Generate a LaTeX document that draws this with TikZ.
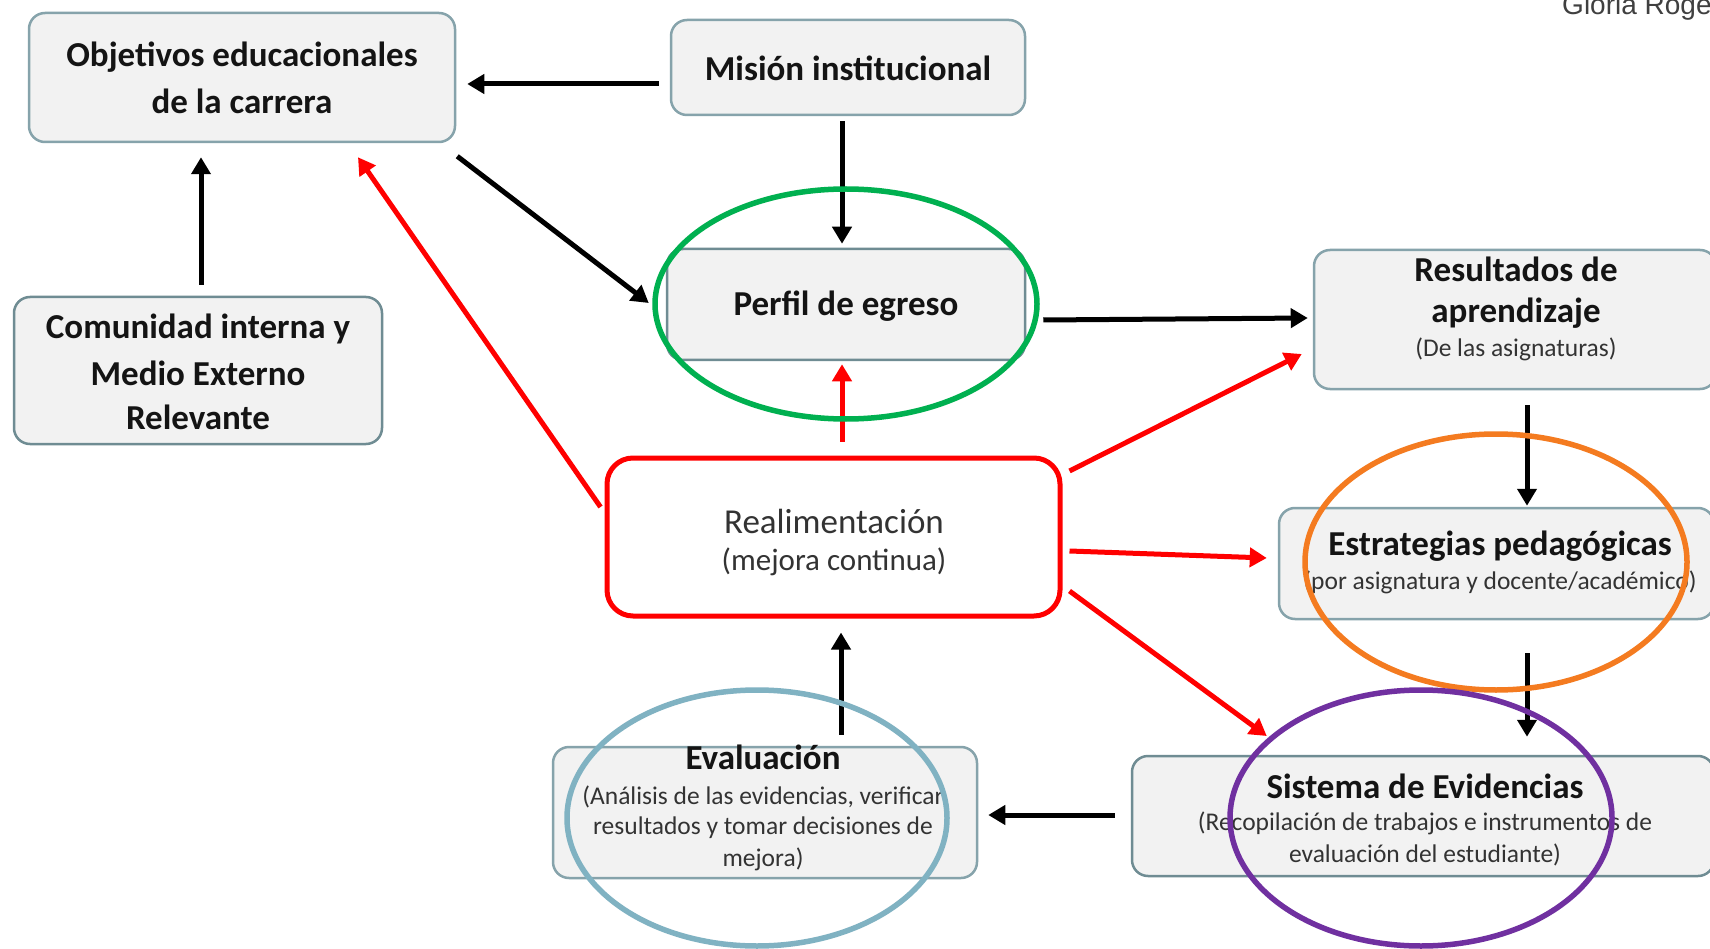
\documentclass[tikz,border=0pt]{standalone}
\usepackage{fontspec}
\setmainfont{Carlito}
\newfontfamily\arialfont{Liberation Sans}
\usetikzlibrary{arrows.meta,calc}
\definecolor{boxfill}{HTML}{F2F2F2}
\definecolor{boxline}{HTML}{86A3AB}
\definecolor{boxdark}{HTML}{6F8C93}
\definecolor{txt}{HTML}{141414}
\definecolor{subtxt}{HTML}{333333}
\definecolor{redc}{HTML}{FF0000}
\definecolor{greenc}{HTML}{00B050}
\definecolor{orangec}{HTML}{F47B20}
\definecolor{purplec}{HTML}{7030A0}
\definecolor{bluec}{HTML}{80B2C2}
\definecolor{authorc}{HTML}{404040}
\tikzset{
  box/.style={draw=boxline, fill=boxfill, line width=2.5pt, rounded corners=16pt, inner sep=0pt},
  redbox/.style={draw=redc, fill=white, line width=5pt, rounded corners=26pt, inner sep=0pt},
  headtxt/.style={font=\fontsize{35}{44}\selectfont\bfseries, text=txt, align=center, inner sep=0pt},
  subt/.style={font=\fontsize{25.5}{31}\selectfont, text=subtxt, align=center, inner sep=0pt},
  realtxt/.style={font=\fontsize{35}{41}\selectfont, text=subtxt, align=center, inner sep=0pt},
  blk/.style={draw=black, line width=5pt, -{Triangle[length=17pt,width=19pt]}},
  red/.style={draw=redc, line width=5pt, -{Triangle[length=17pt,width=19pt]}},
  ring/.style={line width=5.5pt}
}
\begin{document}
\begin{tikzpicture}[x=1pt,y=-1pt]
\useasboundingbox (0,0) rectangle (1710,949);
\fill[white] (0,0) rectangle (1710,949);

% author
\node[anchor=base west, font=\fontsize{28}{30}\selectfont\arialfont, text=authorc, inner sep=0pt] (autor) at (1562,15) {Gloria Rogers};

% boxes
\node[box, minimum width=426pt, minimum height=129pt] (obj) at (242,77.5) {};
\node[box, minimum width=354pt, minimum height=95pt] (mision) at (848,67.5) {};
\node[box, draw=boxdark, minimum width=358pt, minimum height=111pt] (perfil) at (846,304.5) {};
\node[box, draw=boxdark, minimum width=368pt, minimum height=147pt] (comunidad) at (198,370.5) {};
\node[box, minimum width=402pt, minimum height=139pt] (resultados) at (1515,319.5) {};
\node[box, minimum width=435pt, minimum height=111pt] (estrategias) at (1496.5,563.5) {};
\node[box, draw=boxdark, minimum width=582pt, minimum height=120pt] (sistema) at (1423,816) {};
\node[box, minimum width=424pt, minimum height=131pt] (evaluacion) at (765,812.5) {};
\node[redbox, minimum width=453pt, minimum height=158pt] (realim) at (833.5,537) {};

% texts
\node[headtxt] (tobj1) at (242,57) {Objetivos educacionales};
\node[headtxt] (tobj2) at (242,101) {de la carrera};
\node[headtxt] (tmision) at (848,68) {Misión institucional};
\node[headtxt] (tperfil) at (846,306) {Perfil de egreso};
\node[headtxt] (tcom1) at (198,329) {Comunidad interna y};
\node[headtxt] (tcom2) at (198,373) {Medio Externo};
\node[headtxt] (tcom3) at (198,417) {Relevante};
\node[headtxt] (tres1) at (1516,269) {Resultados de};
\node[headtxt] (tres2) at (1516,313) {aprendizaje};
\node[subt] (tres3) at (1516,349) {(De las asignaturas)};
\node[headtxt] (test1) at (1500,546) {Estrategias pedagógicas};
\node[subt] (test2) at (1500,582) {(por asignatura y docente/académico)};
\node[headtxt] (tsis1) at (1425,786) {Sistema de Evidencias};
\node[subt] (tsis2) at (1425,823) {(Recopilación de trabajos e instrumentos de};
\node[subt] (tsis3) at (1425,855) {evaluación del estudiante)};
\node[headtxt] (teva1) at (763,757) {Evaluación};
\node[subt] (teva2) at (763,797) {(Análisis de las evidencias, verificar};
\node[subt] (teva3) at (763,828) {resultados y tomar decisiones de};
\node[subt] (teva4) at (763,859) {mejora)};
\node[realtxt] (treal1) at (834,521) {Realimentación};
\node[realtxt, font=\fontsize{31}{38}\selectfont] (treal2) at (834,562) {(mejora continua)};

% black arrows
\draw[blk] ($(mision.west)+(-11,16.5)$) -- ($(obj.east)+(11,6.5)$);
\draw[blk] ($(mision.south)+(-6,5)$) -- ($(perfil.north)+(-4,-4)$);
\draw[blk] ($(obj.south east)+(1,13)$) -- ($(perfil.west)+(-17,-1.5)$);
\draw[blk] ($(comunidad.north)+(3,-11)$) -- ($(obj.south)+(-41,14)$);
\draw[blk] ($(perfil.east)+(17,15.5)$) -- ($(resultados.west)+(-5,-1.5)$);
\draw[blk] ($(resultados.south)+(12,15)$) -- ($(estrategias.north)+(30.5,-1)$);
\draw[blk] ($(estrategias.south)+(30.5,33)$) -- ($(sistema.north)+(104,-18)$);
\draw[blk] ($(sistema.west)+(-16,-1)$) -- ($(evaluacion.east)+(10,2.5)$);
\draw[blk] ($(evaluacion.north)+(76,-11)$) -- ($(realim.south)+(7.5,14)$);

% red arrows
\draw[red] ($(realim.north)+(8.5,-14)$) -- ($(perfil.south)+(-4,3)$);
\draw[red] ($(realim.west)+(-4,-30)$) -- ($(obj.south)+(116,14)$);
\draw[red] ($(realim.east)+(7,-66)$) -- ($(resultados.west)+(-11,34.5)$);
\draw[red] ($(realim.east)+(7,14)$) -- ($(estrategias.west)+(-11,-5.5)$);
\draw[red] ($(realim.east)+(7,54)$) -- ($(sistema.west)+(136,-80)$);

% rings
\draw[ring, draw=greenc] (846,304) ellipse [x radius=191, y radius=115];
\draw[ring, draw=orangec] (1496,562) ellipse [x radius=191, y radius=128];
\draw[ring, draw=purplec] (1421,818) ellipse [x radius=191, y radius=128];
\draw[ring, draw=bluec] (757,818) ellipse [x radius=190, y radius=128];
\end{tikzpicture}
\end{document}
